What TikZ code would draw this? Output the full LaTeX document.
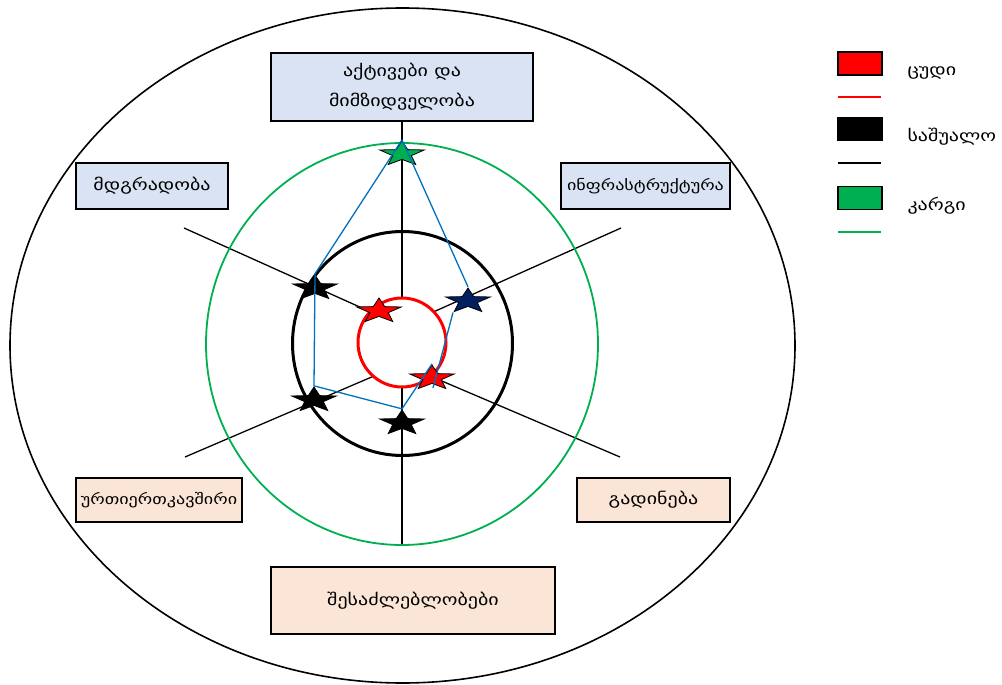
\documentclass[tikz,border=0pt]{standalone}
\usepackage{fontspec}
\newfontfamily\geofont[FakeStretch=1.25]{DejaVu Sans}
\usetikzlibrary{shapes.geometric}
\definecolor{goodgreen}{HTML}{00B050}
\definecolor{badred}{HTML}{FF0000}
\definecolor{navystar}{HTML}{002060}
\definecolor{polyblue}{HTML}{0070C0}
\definecolor{boxblue}{HTML}{DAE3F3}
\definecolor{boxpeach}{HTML}{FBE5D6}
\begin{document}
\begin{tikzpicture}[x=1pt,y=-1pt,
  factor/.style={draw,line width=1.5pt,inner sep=2pt,align=center,
    font=\geofont\fontsize{16}{30}\selectfont},
  assets/.style={factor,fill=boxblue},
  risks/.style={factor,fill=boxpeach},
  longname/.style={font=\geofont\fontsize{14.5}{16}\selectfont},
  ratestar/.style={star,star points=5,star point ratio=2.4,minimum size=26pt,
    inner sep=0pt,xscale=1.8,draw=black,line width=0.8pt},
  spoke/.style={line width=1.3pt},
  legendbox/.style={draw,line width=1.5pt,minimum width=44pt,minimum height=23pt,inner sep=0pt},
  legendtext/.style={anchor=west,font=\geofont\fontsize{16}{18}\selectfont}]
  \useasboundingbox (0,0) rectangle (1002,685);

  \node[assets,minimum width=262pt,minimum height=68pt] (top) at (402,87)
    {აქტივები და\\მიმზიდველობა};
  \node[assets,minimum width=152pt,minimum height=46pt] (left) at (152,186) {მდგრადობა};
  \node[assets,longname,minimum width=169pt,minimum height=46pt] (right) at (645.5,186) {ინფრასტრუქტურა};
  \node[risks,longname,minimum width=166pt,minimum height=44pt] (lowleft) at (159,500) {ურთიერთკავშირი};
  \node[risks,minimum width=153pt,minimum height=44pt] (lowright) at (653.5,500) {გადინება};
  \node[risks,minimum width=284pt,minimum height=67pt] (bottom) at (413,600.5) {შესაძლებლობები};

  \draw[line width=1.6pt] (402.5,345.5) ellipse [x radius=392.5, y radius=337.5];

  \coordinate (upper) at (402,326);
  \coordinate (lower) at (402,364);
  \coordinate (nw) at (184,228);
  \coordinate (ne) at (621,228);
  \coordinate (sw) at (185,457);
  \coordinate (se) at (620,457);
  \coordinate (axisend) at (402,545);
  \draw[spoke] (top.south) -- (axisend);
  \foreach \n in {nw,ne}
    \draw[spoke] (upper) -- (\n);
  \foreach \n in {sw,se}
    \draw[spoke] (lower) -- (\n);

  \draw[goodgreen,line width=1.8pt] (402,344) ellipse [x radius=196, y radius=201];
  \draw[line width=3pt] (402.5,343.5) ellipse [x radius=110, y radius=112];
  \draw[badred,fill=white,line width=3pt] (402,342.5) ellipse [x radius=44, y radius=44.5];

  \node[ratestar,fill=goodgreen] (sg) at (402,154) {};
  \node[ratestar,fill=navystar] (sn) at (468,301) {};
  \node[ratestar,fill=badred] (sr) at (379,311) {};
  \node[ratestar,fill=black] (sb) at (315,288) {};
  \node[ratestar,fill=black] (sl) at (314,400) {};
  \node[ratestar,fill=black] (sd) at (402,423) {};
  \node[ratestar,fill=badred] (sq) at (432,378) {};

  \coordinate (bend) at (433,388);
  \draw[polyblue,line width=1.3pt] (sg.outer point 1) -- (sb.outer point 1)
    -- (sl.outer point 1) -- (sd.outer point 1) -- (sq.outer point 1);
  \draw[polyblue,line width=1.3pt] (sg.outer point 1) -- (sn.outer point 1);
  \draw[polyblue,line width=1.3pt] (sn.outer point 3) -- (bend);

  \node[legendbox,fill=badred] (kbad) at (860,63.5) {};
  \node[legendbox,fill=black] (kmid) at (860,129) {};
  \node[legendbox,fill=goodgreen] (kgood) at (860,198) {};
  \coordinate (lbad) at (838,97);
  \coordinate (lmid) at (838,163);
  \coordinate (lgood) at (838,232);
  \draw[badred,line width=2.2pt] (lbad) -- ++(43,0);
  \draw[black,line width=2.2pt] (lmid) -- ++(43,0);
  \draw[goodgreen,line width=2.2pt] (lgood) -- ++(43,0);
  \node[legendtext] (tbad) at (904,73) {ცუდი};
  \node[legendtext] (tmid) at (904,137) {საშუალო};
  \node[legendtext] (tgood) at (904,206) {კარგი};
\end{tikzpicture}
\end{document}
